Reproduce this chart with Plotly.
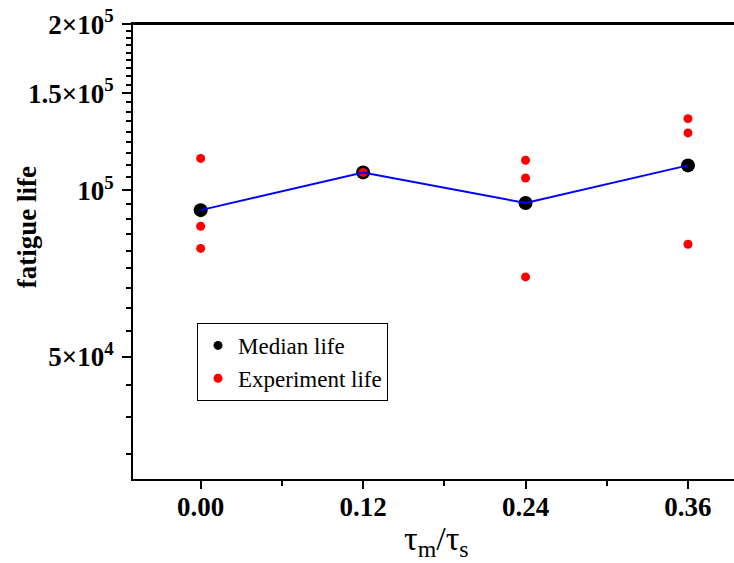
import math
import plotly.graph_objects as go

# ---- data ----
x_levels = [0.00, 0.12, 0.24, 0.36]
median_life = [92100, 107800, 94900, 111000]

exp_x = [0.00, 0.00, 0.00, 0.12, 0.24, 0.24, 0.24, 0.36, 0.36, 0.36]
exp_life = [114300, 86100, 78500, 107800, 113400, 105300, 69700, 134900, 127100, 79900]

x_tick_vals = [0.00, 0.12, 0.24, 0.36]
x_tick_text = ["0.00", "0.12", "0.24", "0.36"]
x_minor_vals = [0.06, 0.18, 0.30]

y_tick_vals = [5e4, 1e5, 1.5e5, 2e5]
y_tick_text = ["5×10<sup>4</sup>", "10<sup>5</sup>", "1.5×10<sup>5</sup>", "2×10<sup>5</sup>"]
y_minor_vals = [50000 / 9 * k for k in range(6, 37)]

SERIF = "Liberation Serif, Times New Roman, serif"

fig = go.Figure()
fig.add_trace(go.Scatter(x=x_levels, y=median_life, mode="markers",
                         marker=dict(color="black", size=14), showlegend=False))
fig.add_trace(go.Scatter(x=exp_x, y=exp_life, mode="markers",
                         marker=dict(color="#ff0000", size=9), showlegend=False))
fig.add_trace(go.Scatter(x=x_levels, y=median_life, mode="lines",
                         line=dict(color="#0000ff", width=2), showlegend=False))
# legend entries
fig.add_trace(go.Scatter(x=[None], y=[None], mode="markers",
                         marker=dict(color="black", size=9), name="Median life"))
fig.add_trace(go.Scatter(x=[None], y=[None], mode="markers",
                         marker=dict(color="#ff0000", size=9), name="Experiment life"))

fig.update_layout(
    width=734, height=563,
    margin=dict(l=133, r=0, t=24, b=84),
    plot_bgcolor="white", paper_bgcolor="white",
    xaxis=dict(
        range=[-0.05, 0.394], automargin=False,
        showline=True, linecolor="black", linewidth=2, mirror=True,
        ticks="outside", ticklen=8, tickwidth=2, tickcolor="black",
        tickmode="array", tickvals=x_tick_vals, ticktext=x_tick_text,
        tickfont=dict(family=SERIF, size=27, color="black", weight="bold"),
        ticklabelstandoff=-5,
        showgrid=False, zeroline=False,
        minor=dict(tickmode="array", tickvals=x_minor_vals, ticks="outside",
                   ticklen=5, tickwidth=2, tickcolor="black", showgrid=False),
    ),
    yaxis=dict(
        type="log", automargin=False,
        range=[math.log10(3e4), math.log10(2e5) + 0.0005],
        showline=True, linecolor="black", linewidth=2,
        ticks="outside", ticklen=9, tickwidth=2, tickcolor="black",
        tickmode="array", tickvals=y_tick_vals, ticktext=y_tick_text,
        tickfont=dict(family=SERIF, size=27, color="black", weight="bold"),
        ticklabelstandoff=3,
        showgrid=False, zeroline=False,
        minor=dict(tickmode="array", tickvals=y_minor_vals, ticks="outside",
                   ticklen=5, tickwidth=2, tickcolor="black", showgrid=False),
    ),
    legend=dict(
        x=0.1065, y=0.343, xanchor="left", yanchor="top",
        bordercolor="black", borderwidth=1, bgcolor="white",
        font=dict(family=SERIF, size=23, color="black"),
        tracegroupgap=0,
    ),
    shapes=[
        dict(type="line", xref="paper", yref="paper", x0=0, x1=1, y0=1, y1=1,
             line=dict(color="black", width=2), layer="above"),
    ],
    annotations=[
        dict(text="<b>fatigue life</b>", xref="paper", yref="paper",
             x=-0.176, y=0.554, xanchor="center", yanchor="middle",
             textangle=-90, showarrow=False,
             font=dict(family=SERIF, size=27, color="black")),
        dict(text="τ<sub>m</sub>/τ<sub>s</sub>", xref="paper", yref="paper",
             x=0.505, y=-0.086, xanchor="center", yanchor="top",
             showarrow=False,
             font=dict(family=SERIF, size=34, color="black")),
    ],
)

fig.write_html(
    "out.html",
    config={"displayModeBar": False},
    post_script="document.documentElement.style.margin='0';"
                "document.body.style.margin='0';"
                "document.body.style.overflow='hidden';",
)
